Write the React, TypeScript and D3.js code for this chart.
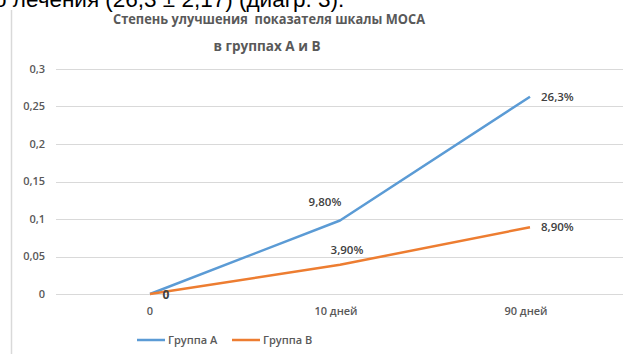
import * as d3 from 'd3';

const categories = ['0', '10 дней', '90 дней'];
const groupA = [0, 0.098, 0.263];
const groupB = [0, 0.039, 0.089];
const labelsA = ['', '9,80%', '26,3%'];
const labelsB = ['0', '3,90%', '8,90%'];
const yTicks = [0, 0.05, 0.1, 0.15, 0.2, 0.25, 0.3];
const seriesNames = ['Группа А', 'Группа В'];
const COLORS = ['#5B9BD5', '#ED7D31'];

const W = 630;
const H = 354;
const FONT = '"Open Sans", "Noto Sans", sans-serif';

export default function App() {
  const x = d3.scalePoint<string>().domain(categories).range([55, 625]).padding(0.5);
  const y = d3.scaleLinear().domain([0, 0.3]).range([294, 69]);
  const fmt = (v: number) => (v === 0 ? '0' : d3.format('')(v).replace('.', ','));

  const line = d3.line<number>()
    .x((_, i) => x(categories[i]) as number)
    .y(d => y(d));

  const series = [groupA, groupB];
  const lbl = { fontSize: 11.5, fontWeight: 600, fill: '#404040' };

  return (
    <svg width={W} height={H} style={{ position: 'absolute', left: 0, top: 0, background: '#fff' }} fontFamily={FONT}>
      {/* cropped text from the page above */}
      <text x={-6} y={7} fontFamily='"Liberation Sans", Arial, sans-serif' fontSize={22.5} fill="#000">
        о лечения (26,3 ± 2,17) (диагр. 3).
      </text>
      <line x1={11.5} x2={11.5} y1={10} y2={H} stroke="#d9d9d9" strokeWidth={1.5} />

      {/* title */}
      <text x={269} y={24} textAnchor="middle" fontSize={15} fontWeight={700} fill="#595959"
        style={{ whiteSpace: 'pre' }} textLength={312} lengthAdjust="spacingAndGlyphs">
        {'Степень улучшения  показателя шкалы МОСА'}
      </text>
      <text x={267} y={51} textAnchor="middle" fontSize={15} fontWeight={700} fill="#595959"
        textLength={107} lengthAdjust="spacingAndGlyphs">
        в группах А и В
      </text>

      {/* grid + y labels */}
      {yTicks.map(t => (
        <g key={t}>
          <line x1={56} x2={623} y1={Math.round(y(t)) + 0.5} y2={Math.round(y(t)) + 0.5} stroke="#d9d9d9" />
          <text x={45} y={y(t)} dy="0.35em" textAnchor="end" fontSize={11} fontWeight={600} fill="#595959">
            {fmt(t)}
          </text>
        </g>
      ))}

      {/* x labels */}
      {categories.map(c => (
        <text key={c} x={(x(c) as number) - (c === '0' ? 0 : 4)} y={315} textAnchor="middle" fontSize={11} fontWeight={600} fill="#595959">
          {c}
        </text>
      ))}

      {/* lines */}
      {series.map((s, i) => (
        <path key={i} d={line(s) || ''} fill="none" stroke={COLORS[i]} strokeWidth={2.5} strokeLinejoin="round" />
      ))}

      {/* data labels A */}
      <text x={(x(categories[1]) as number) - 15} y={y(groupA[1]) - 15} textAnchor="middle" {...lbl}>{labelsA[1]}</text>
      <text x={(x(categories[2]) as number) + 11} y={y(groupA[2])} dy="0.35em" {...lbl}>{labelsA[2]}</text>
      {/* data labels B */}
      <text x={(x(categories[0]) as number) + 16} y={y(groupB[0])} dy="0.4em" textAnchor="middle" fontSize={12} fontWeight={700} fill="#404040">{labelsB[0]}</text>
      <text x={(x(categories[1]) as number) + 7} y={y(groupB[1]) - 11} textAnchor="middle" {...lbl}>{labelsB[1]}</text>
      <text x={(x(categories[2]) as number) + 11} y={y(groupB[2])} dy="0.35em" {...lbl}>{labelsB[2]}</text>

      {/* legend */}
      <line x1={137} x2={165} y1={340} y2={340} stroke={COLORS[0]} strokeWidth={2.5} />
      <text x={168} y={340} dy="0.35em" fontSize={11} fontWeight={600} fill="#595959">{seriesNames[0]}</text>
      <line x1={232} x2={260} y1={340} y2={340} stroke={COLORS[1]} strokeWidth={2.5} />
      <text x={263} y={340} dy="0.35em" fontSize={11} fontWeight={600} fill="#595959">{seriesNames[1]}</text>
    </svg>
  );
}
